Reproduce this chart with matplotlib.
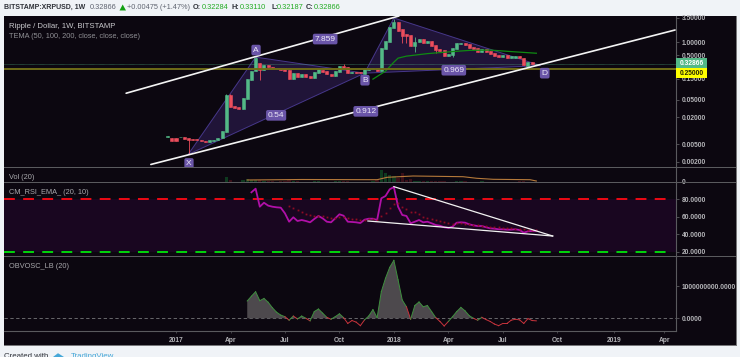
import numpy as np
import matplotlib
matplotlib.use("Agg")
import matplotlib.pyplot as plt
from matplotlib.patches import Rectangle, Polygon

W, H = 740, 357
plt.rcParams['font.family'] = ['Liberation Sans', 'DejaVu Sans']

# week 0 = first week of 2017, candles start at week -2
first_week = -2
opens = [.00740, .00675, .00675, .00710, .00710, .00675, .00645, .00640, .00620, .00590,
         .00564, .00594, .00625, .00675, .00921, .0632, .0356, .0338, .0305, .0513,
         .138, .22, .335, .232, .302, .276, .262, .254, .254, .232,
         .145, .202, .164, .189, .170, .156, .202, .232, .220, .191,
         .173, .213, .286, .272, .205, .213, .209, .191, .236, .241,
         .254, .217, .694, 1.02, 2.07, 2.88, 1.97, 1.49, 1.42, .825,
         .98, 1.15, .93, 1.07, .855, .694, .66, .49, .50, .705,
         .885, .93, .887, .77, .72, .603, .705, .616, .555, .50,
         .465, .51, .44, .44, .475, .44, .291, .358, .32284]
closes = [.00750, .00579, .00579, .00725, .00641, .00609, .00630, .00630, .00600, .00570,
          .00609, .00625, .00675, .00968, .0632, .0338, .0321, .0305, .0542, .145,
          .224, .434, .232, .308, .272, .258, .254, .232, .224, .145,
          .202, .164, .189, .164, .156, .209, .245, .209, .186, .173,
          .220, .286, .254, .202, .212, .202, .196, .245, .258, .258,
          .217, .72, 1.07, 2.15, 2.88, 1.80, 1.39, 1.39, .825, 1.02,
          1.15, .93, 1.07, .825, .66, .635, .49, .535, .72, .93,
          .965, .87, .72, .694, .603, .705, .585, .535, .475, .465,
          .51, .44, .482, .482, .44, .297, .353, .3239, .32866]
wick_high = {19: .457, 40: .313, 52: 3.31, 57: 1.30, 12: .068, 13: .068, 49: .74}
wick_low = {3: .00307, 20: .138, 54: .95, 55: .93, 57: .60, 62: .563, 66: .47}

# TEMA line
tema_weeks = [47, 50, 52, 53, 55, 60, 66, 70, 75, 80, 86]
tema_values = [.146, .221, .353, .434, .482, .549, .61, .649, .66, .61, .56]

# price levels, trend lines and the XABCD drawing
last_price = 0.32866
level_price = 0.25
upper_weeks, upper_prices = [-11.9, 53.2], [.0702, 3.87]
lower_weeks, lower_prices = [-6, 119.1], [.00174, 1.87]
xab_weeks, xab_prices = [2.9, 19, 45], [.00292, .458, .199]
bcd_weeks, bcd_prices = [45, 52, 87], [.199, 3.49, .294]
tags = ["A", "B", "X", "D", "7.859", "0.54", "0.912", "0.969"]
tag_weeks = [19.1, 45.1, 3.1, 88, 35.6, 23.9, 45.3, 66.3]
tag_prices = [.66, .138, .00183, .199, 1.17, .0223, .0274, .232]

# volume, read as height of the bar
vol_first_week = 8
volumes = [.5, .5, .7, 1, 5.5, 3, 1, 1, 3, 4, 2.5, 3, 2.5, 2, 1.5, 1.5, 1, 1.5, 1.5, 2.5,
           2, 1.5, 1, 1, 1, 2, 1.5, 1, 1, 1, 1.5, 1.5, 1.5, 2, 1, 1, 1, 1, 1, 1.5,
           2.5, 13, 10, 8, 7, 4.5, 10, 3, 4, 2, 1.5, 1.5, 1.5, 1.5, 2, 2, 1.5, 1, 1, 1.5,
           1.5, 1.5, 1, 1, 1, 1.5, 1, 1, 1, 1, 1, 1, 1, 1, 1.5, 1.5, 1, 1, 1]
vol_ma_weeks = [17, 30, 48, 50.4, 56.6, 68.5, 71.8, 75.7, 84.5, 86]
vol_ma_values = [2.5, 3, 2.8, 5.2, 6.5, 5.8, 4.2, 3.2, 2.8, 1.5]

# RSI panel
rsi_first_week = 18
rsi = [87.6, 91.7, 71.3, 75.8, 72.5, 71.3, 70.6, 70.2, 63.8, 54.3, 59.3, 55.1, 56.2, 55.1, 53.6,
       57.4, 60.8, 58.1, 54.3, 53.6, 58.1, 62.7, 61.1, 54.3, 54, 53.6, 52.8, 56.6, 57.7, 57.7,
       56.2, 80.8, 83.4, 91, 93.6, 71.3, 61.9, 60.8, 52.5, 54.3, 56.2, 53.6, 54.3, 52.5, 50.6,
       49.8, 48, 47.2, 48.7, 53.2, 53.6, 53.2, 51.3, 50.2, 49.4, 49.4, 48, 46.8, 46.4, 45.7,
       45.7, 45.3, 45.3, 45.7, 44.9, 41.9, 43.4, 43.8, 44]
ema_first_week = 27
ema = [72.5, 70.2, 67.6, 65.3, 63, 61.5, 60.8, 60.8, 60.8, 59.3, 58.5, 58.8, 59.6, 59.3, 58.1,
       57.7, 57.4, 56.6, 56.6, 57, 57, 56.2, 61.1, 64.5, 69.5, 74, 75.1, 70.6, 69, 65.6,
       65, 62.7, 60, 58.8, 57.4, 55.9, 54.8, 53.6, 52.5, 52.1, 52.5, 52.5, 51.7, 51.3, 50.6,
       50.6, 49.8, 49.4, 48.7, 48.3, 48, 47.2, 46.8, 46.8, 46.4, 46.4, 45.7, 44.9, 44.6, 44.5]
rsi_upper_weeks, rsi_upper_values = [52, 89.9], [94, 38.1]
rsi_lower_weeks, rsi_lower_values = [45.8, 89.9], [55.1, 38.1]

# OBV oscillator, in units of 1e9
obv_first_week = 17
obv = [.54, .69, .83, .55, .62, .50, .33, .19, .10, .05, -.06, .07, -.02, .07, 0, -.08, .21, .29,
       .16, .03, -.03, .05, .14, .02, -.16, -.07, -.12, -.23, -.05, .07, .27, .02, .83, 1.25,
       1.59, 1.81, 1.20, .57, .36, -.03, .40, .51, .36, .40, .21, .02, -.10, -.24, -.10, .05,
       .21, .34, .23, .08, 0, -.06, .03, -.04, -.10, -.18, -.23, -.16, -.16, -.06, -.03, -.05,
       -.16, -.01, -.07, -.08]

time_ticks = [0, 13.1, 26, 39, 52, 65, 78, 91, 104.5, 116.5]
time_labels = ["2017", "Apr", "Jul", "Oct", "2018", "Apr", "Jul", "Oct", "2019", "Apr"]
price_ticks = [3.5, 1, .5, .15, .05, .02, .005, .002]

BG = "#0c0710"
BAND = "#190620"
GRID = "#5a5a5e"
TXT = "#b4b4b8"
UP = "#53b987"
DOWN = "#eb4d5c"
PURPLE = "#6a55a8"
TICK_SIZE = 4.8
HEAD_SIZE = 5.35


def px_axes(top, bottom):
    ax = fig.add_axes([4 / W, 1 - bottom / H, 672 / W, (bottom - top) / H])
    ax.set_facecolor(BG)
    ax.set_xlim((4 - 176) / 4.19, (676 - 176) / 4.19)
    for side in ["left", "top", "bottom"]:
        ax.spines[side].set_visible(False)
    ax.spines["right"].set_color(GRID)
    ax.spines["right"].set_linewidth(0.8)
    ax.yaxis.tick_right()
    ax.set_xticks([])
    ax.tick_params(axis="y", colors=GRID, labelcolor=TXT, labelsize=TICK_SIZE, length=2, width=0.6, pad=2)
    return ax


def fig_rect(x0, y0, x1, y1, color, z=5):
    fig.add_artist(Rectangle((x0 / W, 1 - y1 / H), (x1 - x0) / W, (y1 - y0) / H, color=color, lw=0,
                             transform=fig.transFigure, zorder=z))


def fig_text(x, y, s, **kw):
    fig.text(x / W, 1 - y / H, s, va="center", **kw)


fig = plt.figure(figsize=(W / 100, H / 100), dpi=100, facecolor="#f0f3f7")
fig_rect(4, 16, 736, 345, BG, z=-1)

# main panel
ax = px_axes(16, 167.5)
ax.set_yscale("log")
ax.set_ylim(0.001486, 3.87)
weeks = first_week + np.arange(len(opens))
for w, o, c in zip(weeks, opens, closes):
    col = UP if c >= o else DOWN
    hi = wick_high.get(int(w), max(o, c))
    lo = wick_low.get(int(w), min(o, c))
    ax.vlines(w, lo, hi, color=col, lw=0.6, zorder=3)
    ax.bar(w, abs(c - o), bottom=min(o, c), width=0.72, color=col, edgecolor=col, lw=0.4, zorder=3)
for xs, ys in [(xab_weeks, xab_prices), (bcd_weeks, bcd_prices)]:
    ax.add_patch(Polygon(np.column_stack([xs, ys]), closed=True, fc="#6a45c8", alpha=0.22, lw=0, zorder=1))
    ax.add_patch(Polygon(np.column_stack([xs, ys]), closed=True, fill=False, ec="#46378a", lw=0.7, zorder=2))
ax.plot(tema_weeks, tema_values, color="#0f8a12", lw=0.9, zorder=4)
ax.axhline(last_price, color=UP, lw=0.4, ls=(0, (1, 1)), zorder=2)
ax.axhline(level_price, color="#6f6c18", lw=1.4, zorder=4)
ax.plot(upper_weeks, upper_prices, color="#f4f4f4", lw=1.2, zorder=5, solid_capstyle="round")
ax.plot(lower_weeks, lower_prices, color="#f4f4f4", lw=1.2, zorder=5, solid_capstyle="round")
for s, tw, tp in zip(tags, tag_weeks, tag_prices):
    ax.text(tw, tp, s, color="#eeeaf8", fontsize=6, ha="center", va="center", zorder=6,
            bbox=dict(boxstyle="round,pad=0.22", fc=PURPLE, ec="none"))
ax.set_yticks(price_ticks)
ax.set_yticklabels(["%.5f" % p for p in price_ticks], fontweight="bold")
ax.minorticks_off()

# volume panel
ax_vol = px_axes(167.5, 182.5)
ax_vol.set_ylim(0, 15)
vol_weeks = vol_first_week + np.arange(len(volumes))
vol_colors = ["#0e3a1f" if closes[w - first_week] >= opens[w - first_week] else "#3a0f18" for w in vol_weeks]
ax_vol.bar(vol_weeks, volumes, width=0.8, color=vol_colors)
ax_vol.plot(vol_ma_weeks, vol_ma_values, color="#b5793a", lw=0.8)
ax_vol.set_yticks([0.8])
ax_vol.set_yticklabels(["0"], fontweight="bold")

# RSI panel
ax_rsi = px_axes(182.5, 256.5)
ax_rsi.set_ylim(14.9, 98.7)
ax_rsi.axhspan(20, 80, color=BAND, lw=0)
dash_end = (667 - 176) / 4.19
ax_rsi.plot([ax_rsi.get_xlim()[0], dash_end], [80, 80], color="#ff0a14", lw=1.3, ls=(0, (6, 4.6)))
ax_rsi.plot([ax_rsi.get_xlim()[0], dash_end], [20, 20], color="#00e60a", lw=1.3, ls=(0, (6, 4.6)))
ax_rsi.plot(rsi_first_week + np.arange(len(rsi)), rsi, color="#b010a8", lw=1.3, zorder=3)
ax_rsi.plot(ema_first_week + np.arange(len(ema)), ema, color="#8f0c24", ls="none", marker="s", ms=1.3, mew=0, zorder=4)
ax_rsi.plot(rsi_upper_weeks, rsi_upper_values, color="#f2f2f2", lw=0.9, zorder=5)
ax_rsi.plot(rsi_lower_weeks, rsi_lower_values, color="#f2f2f2", lw=0.9, zorder=5)
ax_rsi.set_yticks([20, 40, 60, 80])
ax_rsi.set_yticklabels(["20.0000", "40.0000", "60.0000", "80.0000"], fontweight="bold")

# OBV panel, the time scale hangs under it
ax_obv = px_axes(256.5, 330.7)
ax_obv.set_ylim(-0.3875, 1.93)
obv_weeks = obv_first_week + np.arange(len(obv))
obv_arr = np.array(obv)
ax_obv.axhline(0, color="#77777a", lw=0.6, ls=(0, (4, 3)))
ax_obv.fill_between(obv_weeks, obv_arr, 0, where=obv_arr >= 0, interpolate=True, color="#4d494d", lw=0, zorder=2)
for i in range(len(obv) - 1):
    col = "#c8333c" if obv[i + 1] < 0 else "#3f8f3f"
    ax_obv.plot(obv_weeks[i:i + 2], obv_arr[i:i + 2], color=col, lw=0.7, zorder=3)
ax_obv.set_yticks([0, 1])
ax_obv.set_yticklabels(["0.0000", "1000000000.0000"], fontweight="bold")
ax_obv.spines["bottom"].set_visible(True)
ax_obv.spines["bottom"].set_color(GRID)
ax_obv.spines["bottom"].set_linewidth(0.8)
ax_obv.set_xticks(time_ticks)
ax_obv.set_xticklabels(time_labels, fontweight="bold")
ax_obv.tick_params(axis="x", colors=GRID, labelcolor=TXT, labelsize=TICK_SIZE, length=1.5, width=0.5, pad=3)

# panel separators and frame
for y in [167.5, 182.5, 256.5]:
    fig_rect(4, y - 0.35, 736, y + 0.35, GRID)
fig_rect(3.5, 15.5, 736.5, 16.3, "#77777a")
fig_rect(3.5, 15.5, 4.2, 345.5, "#77777a")
fig_rect(735.7, 15.5, 736.5, 345.5, "#77777a")
fig_rect(3.5, 344.8, 736.5, 345.5, "#77777a")

# price tags on the scale
fig_rect(675.7, 58.3, 706.7, 68.3, UP, z=6)
fig_rect(675.7, 68.3, 706.7, 78.3, "#ffff00", z=6)
fig_text(680, 63.3, "%.5f" % last_price, color="white", fontsize=TICK_SIZE, fontweight="bold", zorder=7)
fig_text(680, 73.3, "%.5f" % level_price, color="#222200", fontsize=TICK_SIZE, fontweight="bold", zorder=7)

# pane titles
fig_text(9, 26, "Ripple / Dollar, 1W, BITSTAMP", color="#c8c8cc", fontsize=5.6, zorder=7)
fig_text(9, 36, "TEMA (50, 100, 200, close, close, close)", color="#8f8f94", fontsize=5.3, zorder=7)
fig_text(9, 177.5, "Vol (20)", color="#a8a8ac", fontsize=5.3, zorder=7)
fig_text(9, 193, "CM_RSI_EMA_ (20, 10)", color="#a8a8ac", fontsize=5.3, zorder=7)
fig_text(9, 267, "OBVOSC_LB (20)", color="#a8a8ac", fontsize=5.3, zorder=7)

# header row
DARK = "#2e3138"
GREY = "#5f6470"
GREEN = "#22ab22"
fig_text(4, 7.5, "BITSTAMP:XRPUSD, 1W", color=DARK, fontsize=5.0, fontweight="bold")
fig_text(90, 7.5, "0.32866", color=GREY, fontsize=HEAD_SIZE)
fig.add_artist(Polygon([[119.5 / W, 1 - 10.5 / H], [126 / W, 1 - 10.5 / H], [122.7 / W, 1 - 4.5 / H]],
                       closed=True, color="#12a012", lw=0, transform=fig.transFigure))
fig_text(127, 7.5, "+0.00475 (+1.47%)", color=GREY, fontsize=HEAD_SIZE)
for x, s in [(193, "O:"), (232, "H:"), (271, "L:"), (306, "C:")]:
    fig_text(x, 7.5, s, color=DARK, fontsize=HEAD_SIZE, fontweight="bold")
for x, s in [(202, "0.32284"), (240, "0.33110"), (277, "0.32187"), (314, "0.32866")]:
    fig_text(x, 7.5, s, color=GREEN, fontsize=HEAD_SIZE)

# footer, cut off by the picture edge as in the source
fig_text(4, 357, "Created with", color=DARK, fontsize=5.7)
fig_text(71, 357, "TradingView", color="#45a7d8", fontsize=5.7)
fig.add_artist(Polygon([[53 / W, 0], [58 / W, 3.8 / H], [64 / W, 0]], closed=True, color="#45a7d8", lw=0,
                       transform=fig.transFigure))

fig.savefig("out.png", dpi=100, facecolor=fig.get_facecolor())
